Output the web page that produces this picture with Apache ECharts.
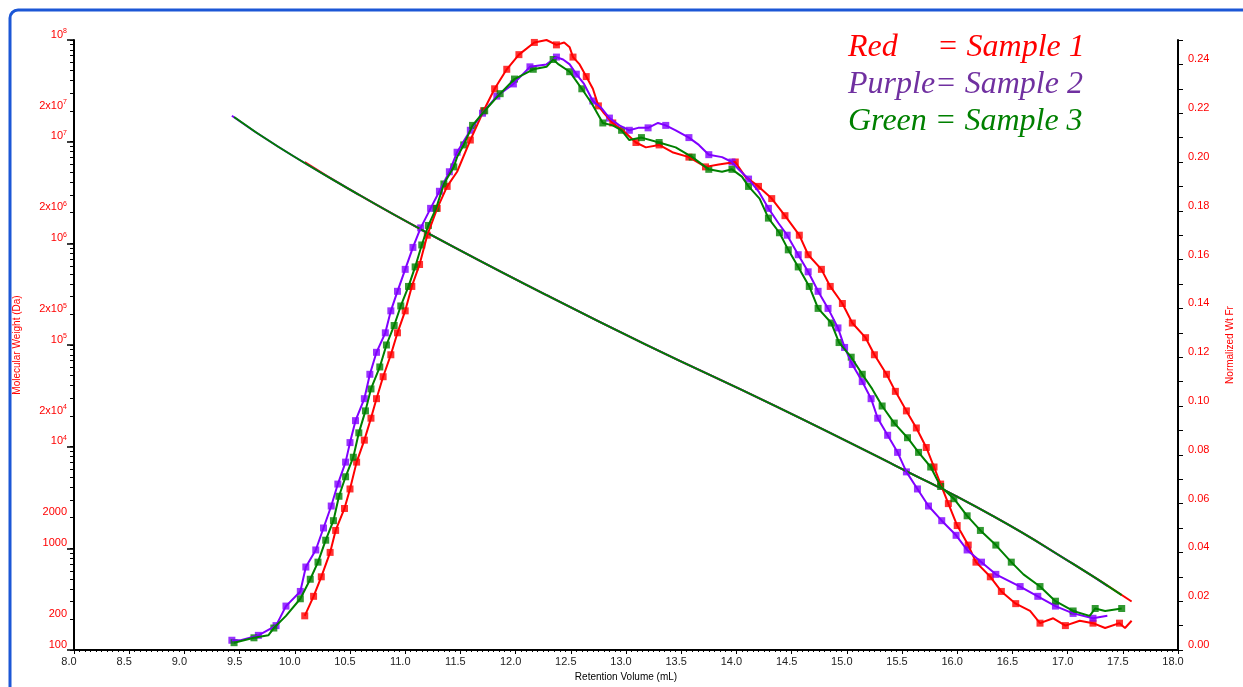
<!DOCTYPE html>
<html>
<head>
<meta charset="utf-8">
<script src="https://cdn.jsdelivr.net/npm/echarts@6/dist/echarts.min.js"></script>
<style>
  html, body { margin: 0; padding: 0; background: #fff; overflow: hidden; }
  #main { width: 1243px; height: 687px; }
</style>
</head>
<body>
<div id="main"></div>
<script>
// retention volume (mL) / normalized wt fraction
const redVol = [10.09,10.17,10.24,10.32,10.37,10.45,10.50,10.56,10.63,10.69,10.74,10.80,10.87,10.93,11.00,11.06,11.13,11.20,11.29,11.38,11.47,11.59,11.71,11.81,11.92,12.03,12.17,12.28,12.37,12.44,12.49,12.52,12.58,12.64,12.70,12.75,12.80,12.88,12.97,13.09,13.18,13.30,13.42,13.57,13.72,13.84,13.99,14.08,14.20,14.32,14.44,14.57,14.65,14.77,14.85,14.96,15.05,15.17,15.25,15.36,15.44,15.54,15.63,15.72,15.79,15.85,15.92,16.00,16.10,16.17,16.30,16.40,16.53,16.66,16.75,16.87,16.98,17.11,17.23,17.34,17.47,17.52,17.58];
const redWt = [0.014,0.022,0.030,0.040,0.049,0.058,0.066,0.077,0.086,0.095,0.103,0.112,0.121,0.130,0.139,0.149,0.158,0.170,0.181,0.190,0.196,0.209,0.221,0.230,0.238,0.244,0.249,0.250,0.248,0.249,0.247,0.243,0.240,0.235,0.230,0.223,0.220,0.216,0.213,0.208,0.206,0.207,0.204,0.202,0.198,0.199,0.200,0.194,0.190,0.185,0.178,0.170,0.162,0.156,0.149,0.142,0.134,0.128,0.121,0.113,0.106,0.098,0.091,0.083,0.075,0.068,0.060,0.051,0.043,0.036,0.030,0.024,0.019,0.016,0.011,0.013,0.010,0.012,0.011,0.009,0.011,0.009,0.012];

const purpleVol = [9.43,9.51,9.67,9.83,9.92,10.05,10.10,10.19,10.26,10.33,10.39,10.46,10.50,10.55,10.63,10.68,10.74,10.82,10.87,10.93,11.00,11.07,11.14,11.23,11.31,11.40,11.47,11.59,11.70,11.83,11.98,12.13,12.28,12.37,12.43,12.49,12.55,12.62,12.70,12.78,12.85,12.94,13.03,13.11,13.20,13.29,13.36,13.45,13.57,13.66,13.75,13.87,13.96,14.02,14.11,14.20,14.29,14.38,14.46,14.56,14.65,14.74,14.83,14.92,14.98,15.05,15.14,15.22,15.28,15.37,15.46,15.54,15.64,15.74,15.86,15.99,16.09,16.22,16.35,16.57,16.73,16.89,17.05,17.23,17.36];
const purpleWt = [0.004,0.004,0.006,0.010,0.018,0.024,0.034,0.041,0.050,0.059,0.068,0.077,0.085,0.094,0.103,0.113,0.122,0.130,0.139,0.147,0.156,0.165,0.173,0.181,0.188,0.196,0.204,0.213,0.220,0.227,0.232,0.239,0.240,0.243,0.242,0.240,0.236,0.232,0.225,0.222,0.218,0.215,0.213,0.214,0.214,0.216,0.215,0.213,0.210,0.207,0.203,0.202,0.200,0.197,0.193,0.188,0.181,0.175,0.170,0.162,0.155,0.147,0.140,0.132,0.124,0.117,0.110,0.103,0.095,0.088,0.081,0.073,0.066,0.059,0.053,0.047,0.041,0.036,0.031,0.026,0.022,0.018,0.015,0.013,0.014];

const greenVol = [9.45,9.63,9.76,9.81,9.92,10.05,10.14,10.21,10.28,10.35,10.40,10.46,10.53,10.58,10.64,10.69,10.77,10.83,10.90,10.96,11.03,11.09,11.15,11.21,11.28,11.35,11.44,11.47,11.53,11.61,11.72,11.86,11.99,12.16,12.28,12.34,12.39,12.49,12.60,12.69,12.79,12.88,12.96,13.03,13.14,13.30,13.45,13.60,13.75,13.87,13.96,14.05,14.11,14.21,14.29,14.39,14.47,14.56,14.66,14.74,14.86,14.93,15.04,15.14,15.23,15.32,15.43,15.55,15.65,15.76,15.85,15.97,16.09,16.21,16.35,16.49,16.60,16.75,16.89,17.05,17.20,17.25,17.34,17.49];
const greenWt = [0.003,0.005,0.006,0.009,0.014,0.021,0.029,0.036,0.045,0.053,0.063,0.071,0.079,0.089,0.098,0.107,0.116,0.125,0.133,0.141,0.149,0.157,0.166,0.174,0.181,0.191,0.198,0.202,0.207,0.215,0.221,0.228,0.234,0.238,0.239,0.242,0.240,0.237,0.230,0.224,0.216,0.215,0.213,0.209,0.210,0.208,0.206,0.202,0.197,0.196,0.197,0.194,0.190,0.185,0.177,0.171,0.164,0.157,0.149,0.140,0.134,0.126,0.120,0.113,0.107,0.100,0.093,0.087,0.081,0.075,0.067,0.062,0.055,0.049,0.043,0.036,0.031,0.026,0.020,0.016,0.014,0.017,0.016,0.017];

// calibration curves (molecular weight vs retention volume)
const calVolRed = [10.09,10.48,11.20,12.28,13.18,14.35,15.43,16.33,17.05,17.58];
const calMwRed = [6.3e6,3.48e6,1.27e6,3.10e5,1.01e5,2.52e4,6590,2060,702,300];
const calVolPurple = [9.43,9.85,10.48,11.20,12.28,13.18,14.35,15.43,16.33,17.05,17.36];
const calMwPurple = [1.8e7,8.91e6,3.48e6,1.27e6,3.10e5,1.01e5,2.52e4,6590,2060,702,427];
const calVolGreen = [9.45,9.85,10.48,11.20,12.28,13.18,14.35,15.43,16.33,17.05,17.49];
const calMwGreen = [1.75e7,8.91e6,3.48e6,1.27e6,3.10e5,1.01e5,2.52e4,6590,2060,702,347];

const mwLabelValues = [100,200,1000,2000,1e4,2e4,1e5,2e5,1e6,2e6,1e7,2e7,1e8];
const mwMajorTicks = [100,1000,1e4,1e5,1e6,1e7,1e8];
const mwMinorTicks = [];
for (let e = 2; e < 8; e++) {
    for (let m = 1; m < 10; m++) mwMinorTicks.push(m * Math.pow(10, e));
}
mwMinorTicks.push(1e8);

const RED = '#ff0000', PURPLE = '#8000ff', GREEN = '#008000';
const LEGEND_FONT = 'italic 32px "Liberation Serif", "Times New Roman", serif';

function pairs(xs, ys) {
    return xs.map((x, i) => [x, ys[i]]);
}

function mwLabel(v) {
    const e = Math.round(Math.log10(v));
    const m = Math.round(v / Math.pow(10, e));
    if (e <= 3) return '{b|' + Math.round(v) + '}';
    return (m === 1 ? '{b|10}' : '{b|2x10}') + '{s|' + e + '}';
}

const chart = echarts.init(document.getElementById('main'));

function lineSeries(name, data, color, yAxisIndex, smooth) {
    return {
        name: name,
        type: 'line',
        xAxisIndex: 0,
        yAxisIndex: yAxisIndex,
        data: data,
        showSymbol: false,
        smooth: smooth,
        lineStyle: { color: color, width: 2 },
        itemStyle: { color: color },
        animation: false
    };
}

function markerSeries(id, color) {
    return {
        id: id,
        type: 'scatter',
        xAxisIndex: 0,
        yAxisIndex: 1,
        symbol: 'rect',
        symbolSize: 7,
        itemStyle: { color: color },
        data: [],
        animation: false
    };
}

chart.setOption({
    backgroundColor: '#fff',
    textStyle: { fontFamily: 'Liberation Sans, Arial, sans-serif' },
    grid: { left: 74, right: 57, top: 40, bottom: 30 },
    xAxis: {
        type: 'value',
        min: 8,
        max: 18,
        interval: 0.5,
        name: 'Retention Volume (mL)',
        nameLocation: 'middle',
        nameGap: 22,
        nameTextStyle: { color: '#000', fontSize: 10 },
        axisLine: { onZero: false, lineStyle: { color: '#000', width: 2 } },
        axisTick: { length: 4, lineStyle: { color: '#000' } },
        minorTick: { show: true, splitNumber: 10, length: 2, lineStyle: { color: '#000' } },
        splitLine: { show: false },
        axisLabel: {
            color: '#222', fontSize: 11, margin: 6,
            padding: [0, 10, 0, 0],
            formatter: v => v.toFixed(1)
        }
    },
    yAxis: [
        {
            type: 'log',
            logBase: 10,
            min: 100,
            max: 1e8,
            position: 'left',
            name: 'Molecular Weight (Da)',
            nameLocation: 'middle',
            nameRotate: 90,
            nameGap: 52,
            nameTextStyle: { color: RED, fontSize: 10 },
            axisLine: { show: true, lineStyle: { color: '#000', width: 2 } },
            axisTick: { show: true, length: 4, customValues: mwMinorTicks, lineStyle: { color: '#000' } },
            splitLine: { show: false },
            axisLabel: {
                customValues: mwLabelValues,
                margin: 7,
                verticalAlign: 'bottom',
                formatter: mwLabel,
                rich: {
                    b: { color: RED, fontSize: 11, lineHeight: 12, verticalAlign: 'bottom' },
                    s: { color: RED, fontSize: 7, lineHeight: 12, verticalAlign: 'top' }
                }
            }
        },
        {
            type: 'value',
            min: 0,
            max: 0.25,
            interval: 0.01,
            position: 'right',
            name: 'Normalized Wt Fr',
            nameLocation: 'middle',
            nameRotate: 90,
            nameGap: 47,
            nameTextStyle: { color: RED, fontSize: 10 },
            axisLine: { show: true, lineStyle: { color: '#000', width: 2 } },
            axisTick: { show: true, length: 5, lineStyle: { color: '#000' } },
            splitLine: { show: false },
            axisLabel: {
                color: RED, fontSize: 11, margin: 10,
                verticalAlign: 'bottom', lineHeight: 10,
                formatter: v => (Math.round(v * 100) % 2 === 0 && v < 0.245) ? v.toFixed(2) : ''
            }
        },
        {
            type: 'log',
            logBase: 10,
            min: 100,
            max: 1e8,
            position: 'left',
            axisLine: { show: false },
            axisTick: { show: true, length: 7, customValues: mwMajorTicks, lineStyle: { color: '#000', width: 1.5 } },
            axisLabel: { show: false },
            splitLine: { show: false }
        }
    ],
    graphic: [
        {
            type: 'rect',
            shape: { x: 10, y: 10, width: 1260, height: 720, r: 8 },
            style: { fill: 'none', stroke: '#1c57d6', lineWidth: 3 },
            silent: true
        },
        { type: 'text', left: 848, top: 32, style: { text: 'Red', fill: RED, font: LEGEND_FONT } },
        { type: 'text', left: 937, top: 32, style: { text: '= Sample 1', fill: RED, font: LEGEND_FONT } },
        { type: 'text', left: 848, top: 69, style: { text: 'Purple= Sample 2', fill: '#7030a0', font: LEGEND_FONT } },
        { type: 'text', left: 848, top: 106, style: { text: 'Green = Sample 3', fill: GREEN, font: LEGEND_FONT } }
    ],
    series: [
        lineSeries('cal1', pairs(calVolRed, calMwRed), RED, 0, true),
        lineSeries('cal2', pairs(calVolPurple, calMwPurple), PURPLE, 0, true),
        lineSeries('cal3', pairs(calVolGreen, calMwGreen), GREEN, 0, true),
        lineSeries('Sample 1', pairs(redVol, redWt), RED, 1, false),
        markerSeries('m1', RED),
        lineSeries('Sample 2', pairs(purpleVol, purpleWt), PURPLE, 1, false),
        markerSeries('m2', PURPLE),
        lineSeries('Sample 3', pairs(greenVol, greenWt), GREEN, 1, false),
        markerSeries('m3', GREEN)
    ]
});

// square markers on a subset of the read points, spaced along the drawn curve
function pickMarkers(xs, ys, gap) {
    const out = [];
    let acc = Infinity, prev = null;
    for (let i = 0; i < xs.length; i++) {
        const p = chart.convertToPixel({ xAxisIndex: 0, yAxisIndex: 1 }, [xs[i], ys[i]]);
        if (prev) acc += Math.hypot(p[0] - prev[0], p[1] - prev[1]);
        if (acc >= gap) { out.push([xs[i], ys[i]]); acc = 0; }
        prev = p;
    }
    return out;
}

chart.setOption({
    series: [
        { id: 'm1', data: pickMarkers(redVol, redWt, 18) },
        { id: 'm2', data: pickMarkers(purpleVol, purpleWt, 18) },
        { id: 'm3', data: pickMarkers(greenVol, greenWt, 18) }
    ]
});
</script>
</body>
</html>
